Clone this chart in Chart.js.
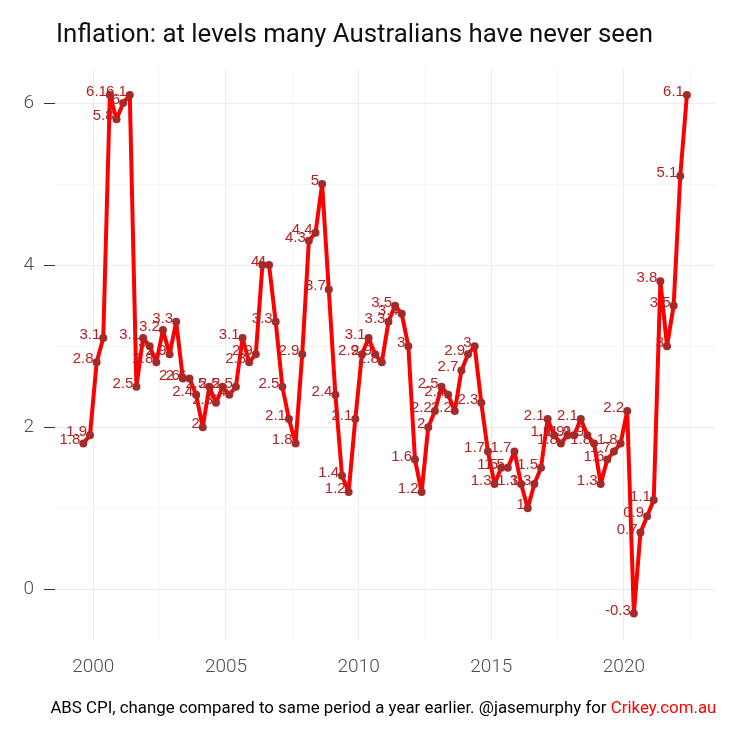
<!DOCTYPE html>
<html>
<head>
<meta charset="utf-8">
<script src="https://cdn.jsdelivr.net/npm/chart.js@4.4.0/dist/chart.umd.min.js"></script>
<style>
  html, body { margin: 0; padding: 0; background: #fff; }
  #wrap { position: relative; width: 740px; height: 740px; }
  #chart { position: absolute; left: 0; top: 0; }
  #title {
    position: absolute; left: 56px; top: 20px;
    font: 26px/26px Roboto, sans-serif; color: #111;
    white-space: nowrap; transform-origin: 0 0;
  }
  #caption {
    position: absolute; right: 24px; top: 700px;
    font: 16px/16px Roboto, sans-serif; color: #000;
    white-space: nowrap; transform-origin: 100% 0;
  }
  #caption span { color: #ff0000; }
</style>
</head>
<body>
<div id="wrap">
  <canvas id="chart" width="740" height="740"></canvas>
  <div id="title">Inflation: at levels many Australians have never seen</div>
  <div id="caption">ABS CPI, change compared to same period a year earlier. @jasemurphy for <span>Crikey.com.au</span></div>
</div>
<script>
// year-ended CPI change, quarterly from Sep quarter 1999 to Jun quarter 2022
const FIRST_YEAR = 1999;
const FIRST_QUARTER = 3;
const CPI_CHANGE = [
  1.8, 1.9,
  2.8, 3.1, 6.1, 5.8,
  6.0, 6.1, 2.5, 3.1,
  3.0, 2.8, 3.2, 2.9,
  3.3, 2.6, 2.6, 2.4,
  2.0, 2.5, 2.3, 2.5,
  2.4, 2.5, 3.1, 2.8,
  2.9, 4.0, 4.0, 3.3,
  2.5, 2.1, 1.8, 2.9,
  4.3, 4.4, 5.0, 3.7,
  2.4, 1.4, 1.2, 2.1,
  2.9, 3.1, 2.9, 2.8,
  3.3, 3.5, 3.4, 3.0,
  1.6, 1.2, 2.0, 2.2,
  2.5, 2.4, 2.2, 2.7,
  2.9, 3.0, 2.3, 1.7,
  1.3, 1.5, 1.5, 1.7,
  1.3, 1.0, 1.3, 1.5,
  2.1, 1.9, 1.8, 1.9,
  1.9, 2.1, 1.9, 1.8,
  1.3, 1.6, 1.7, 1.8,
  2.2, -0.3, 0.7, 0.9,
  1.1, 3.8, 3.0, 3.5,
  5.1, 6.1,
];

const X_GRID = [2000, 2002.5, 2005, 2007.5, 2010, 2012.5, 2015, 2017.5, 2020, 2022.5];
const X_LABELS = [2000, 2005, 2010, 2015, 2020];
const Y_GRID = [0, 1, 2, 3, 4, 5, 6];
const Y_LABELS = [0, 2, 4, 6];

// place each quarter at its middle
const points = CPI_CHANGE.map((v, i) => ({
  x: FIRST_YEAR + (FIRST_QUARTER - 1 + i + 0.5) / 4,
  y: v,
}));

const pointLabels = {
  id: 'pointLabels',
  afterDatasetsDraw(chart) {
    const { ctx } = chart;
    const meta = chart.getDatasetMeta(0);
    ctx.save();
    ctx.font = '15px "Liberation Sans", Arial, sans-serif';
    ctx.fillStyle = '#b22222';
    ctx.textAlign = 'right';
    ctx.textBaseline = 'alphabetic';
    meta.data.forEach((pt, i) => {
      ctx.fillText(String(CPI_CHANGE[i]), pt.x - 3, pt.y + 1);
    });
    ctx.restore();
  },
};

const isMajorX = v => X_LABELS.includes(v);
const isMajorY = v => Y_LABELS.includes(v);

new Chart(document.getElementById('chart'), {
  type: 'line',
  data: {
    datasets: [{
      data: points,
      borderColor: '#ff0000',
      borderWidth: 4,
      borderJoinStyle: 'round',
      tension: 0,
      pointRadius: 4,
      pointBackgroundColor: '#a52a2a',
      pointBorderWidth: 0,
    }],
  },
  options: {
    responsive: false,
    animation: false,
    layout: { padding: { top: 69, right: 25, left: 0, bottom: 0 } },
    plugins: {
      legend: { display: false },
      tooltip: { enabled: false },
    },
    scales: {
      x: {
        type: 'linear',
        bounds: 'data',
        min: 1998.556,
        max: 2023.434,
        afterBuildTicks: s => { s.ticks = X_GRID.map(v => ({ value: v })); },
        afterFit: s => { s.height = 100.5; },
        border: { display: false },
        grid: {
          drawTicks: false,
          color: c => (isMajorX(c.tick.value) ? '#ebebeb' : '#f5f5f5'),
          lineWidth: 1,
        },
        ticks: {
          autoSkip: false,
          maxRotation: 0,
          padding: 16,
          color: '#4d4d4d',
          font: { family: 'Roboto', size: 19, weight: 300 },
          callback: v => (isMajorX(v) ? String(v) : ''),
        },
      },
      y: {
        bounds: 'data',
        min: -0.62,
        max: 6.42,
        afterBuildTicks: s => { s.ticks = Y_GRID.map(v => ({ value: v })); },
        afterFit: s => { s.width = 55; },
        border: { display: false },
        grid: {
          drawTicks: true,
          tickLength: 11,
          tickWidth: 1,
          tickColor: c => (isMajorY(c.tick.value) ? '#333333' : 'rgba(0,0,0,0)'),
          color: c => (isMajorY(c.tick.value) ? '#ebebeb' : '#f5f5f5'),
          lineWidth: 1,
        },
        ticks: {
          padding: 10,
          color: '#4d4d4d',
          font: { family: 'Roboto', size: 19, weight: 300 },
          callback: v => (isMajorY(v) ? String(v) : ''),
        },
      },
    },
  },
  plugins: [pointLabels],
});

// squeeze title and caption to the reference widths
const fitWidth = (el, target) => {
  const w = el.getBoundingClientRect().width;
  el.style.transform = `scaleX(${target / w})`;
};
fitWidth(document.getElementById('title'), 597);
fitWidth(document.getElementById('caption'), 666);
</script>
</body>
</html>
